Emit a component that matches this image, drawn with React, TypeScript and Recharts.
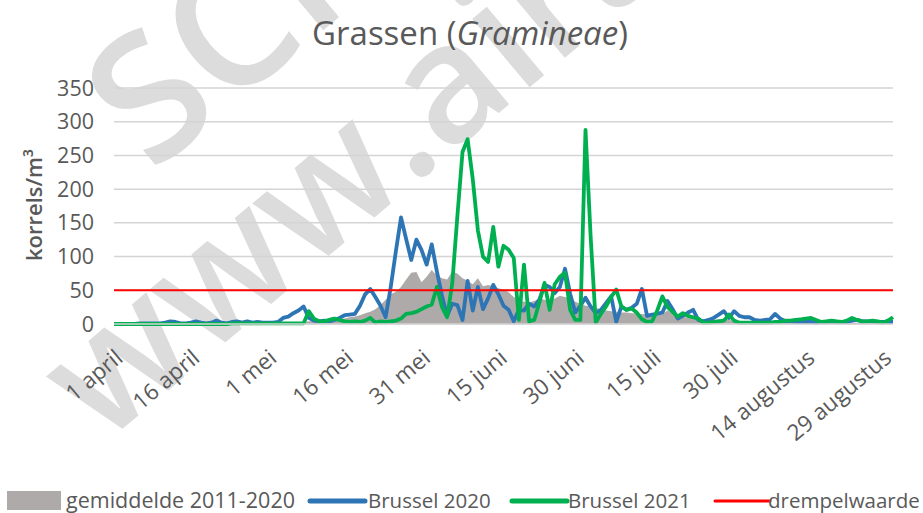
import React from 'react';
import { ComposedChart, Area, Line, XAxis, YAxis, CartesianGrid } from 'recharts';

// Months covered (1 april – 31 augustus)
const MONTHS: [string, number][] = [
  ['april', 30],
  ['mei', 31],
  ['juni', 30],
  ['juli', 31],
  ['augustus', 31],
];

const Y_TICKS = [0, 50, 100, 150, 200, 250, 300, 350];
const THRESHOLD = 50;

// gemiddelde 2011-2020
const AVG = [
  0, 0, 0, 0, 0, 0, 0, 0, 0, 0, 0, 0, 0, 0, 0, 0, 0, 0, 0, 0,
  1, 1, 1, 1, 1, 1, 1, 1, 1, 1, 1, 1, 2, 2, 2, 3, 3, 3, 4, 4,
  4, 5, 6, 6, 7, 8, 10, 11, 13, 16, 18, 22, 28, 36, 44, 48, 55, 66, 76, 77,
  62, 70, 80, 72, 68, 66, 78, 75, 68, 64, 59, 68, 56, 58, 56, 53, 51, 47, 40, 36,
  33, 32, 34, 38, 36, 34, 38, 42, 40, 38, 33, 30, 27, 26, 24, 22, 20, 19, 18, 17,
  17, 16, 16, 15, 14, 12, 12, 15, 20, 16, 12, 10, 10, 9, 8, 7, 7, 6, 7, 8,
  6, 5, 5, 4, 4, 4, 3, 3, 3, 3, 3, 3, 3, 2, 2, 2, 2, 2, 2, 2,
  2, 2, 2, 2, 2, 2, 2, 1, 1, 1, 1, 1, 1,
];

// Brussel 2020
const B2020 = [
  0, 0, 0, 0, 0, 1, 1, 1, 1, 1, 2, 4, 3, 1, 1, 2, 4, 2, 1, 2,
  5, 2, 1, 3, 4, 2, 4, 2, 3, 2, 2, 2, 3, 9, 11, 16, 20, 26, 9, 5,
  4, 5, 4, 6, 9, 13, 14, 15, 27, 44, 52, 40, 27, 10, 55, 108, 158, 126, 95, 125,
  110, 88, 118, 78, 42, 12, 30, 28, 6, 64, 20, 55, 22, 38, 58, 44, 27, 21, 4, 21,
  20, 30, 26, 36, 58, 55, 46, 55, 82, 45, 17, 27, 39, 26, 16, 21, 31, 41, 3, 26,
  21, 24, 30, 52, 12, 14, 15, 17, 34, 22, 8, 12, 17, 21, 6, 4, 6, 9, 14, 19,
  9, 19, 12, 10, 10, 6, 5, 6, 7, 15, 8, 4, 4, 3, 3, 3, 3, 2, 3, 3,
  4, 3, 3, 3, 5, 6, 4, 4, 4, 3, 3, 3, 3,
];

// Brussel 2021
const B2021 = [
  0, 0, 0, 0, 0, 0, 0, 0, 0, 0, 0, 0, 0, 0, 0, 0, 0, 0, 0, 0,
  0, 0, 0, 1, 1, 1, 1, 1, 1, 1, 1, 1, 1, 1, 1, 1, 1, 1, 19, 8,
  4, 4, 6, 8, 6, 4, 3, 4, 3, 5, 9, 2, 4, 3, 4, 5, 8, 15, 16, 18,
  22, 26, 29, 55, 25, 10, 60, 160, 255, 274, 215, 139, 100, 92, 144, 85, 116, 110, 98, 6,
  88, 4, 6, 32, 61, 21, 59, 70, 76, 21, 6, 6, 288, 130, 2, 15, 26, 40, 51, 26,
  21, 23, 17, 7, 3, 4, 20, 41, 25, 18, 11, 16, 12, 10, 8, 2, 2, 3, 4, 5,
  14, 5, 2, 2, 2, 2, 2, 2, 2, 3, 3, 5, 5, 6, 7, 8, 9, 6, 3, 4,
  5, 4, 3, 5, 9, 6, 4, 4, 5, 4, 2, 5, 10,
];

const LABELS: string[] = [];
MONTHS.forEach(([m, n]) => {
  for (let d = 1; d <= n; d++) LABELS.push(`${d} ${m}`);
});

const rows = LABELS.map((label, i) => ({
  label,
  avg: AVG[i] ?? 0,
  b2020: B2020[i] ?? 0,
  b2021: B2021[i] ?? 0,
  drempel: THRESHOLD,
}));

const TXT = '#595959';
const FONT = '"Open Sans", "Noto Sans", sans-serif';

const LEGEND = [
  { kind: 'rect', color: '#aeaaaa', sx: 7, tx: 66, text: 'gemiddelde 2011-2020', fs: 21.5 },
  { kind: 'line', color: '#2e75b6', sx: 310, tx: 368, text: 'Brussel 2020', w: 5, fs: 20.5 },
  { kind: 'line', color: '#00b050', sx: 512, tx: 568, text: 'Brussel 2021', w: 5, fs: 20.5 },
  { kind: 'line', color: '#ff0000', sx: 715, tx: 768, text: 'drempelwaarde', w: 3, fs: 20.5 },
];

export default function App() {
  return (
    <div style={{ position: 'absolute', left: 0, top: 0, width: 923, height: 513, background: '#fff', overflow: 'hidden' }}>
      {/* watermark */}
      <svg width={923} height={513} style={{ position: 'absolute', left: 0, top: 0 }}>
        <g fontFamily={FONT} fontWeight={600} fill="#dcdcdc">
          <text fontSize={175} transform="translate(152,174) rotate(-40)">SCIENSANO</text>
          <text fontSize={165} transform="translate(102,446) rotate(-40)">www.airallergy.be</text>
        </g>
      </svg>
      <div style={{ position: 'absolute', left: 0, top: 0 }}>
        <ComposedChart width={923} height={513} data={rows} margin={{ top: 88, right: 30, left: 0, bottom: 0 }}>
          <CartesianGrid vertical={false} stroke="#d4d4d4" strokeWidth={1.5} />
          <XAxis
            dataKey="label"
            interval={14}
            height={189}
            tickLine={false}
            tickSize={0}
            tickMargin={24}
            axisLine={{ stroke: '#d4d4d4', strokeWidth: 1.5 }}
            tick={{ fontSize: 22.5, fill: TXT, fontFamily: FONT, angle: -40, textAnchor: 'end' }}
          />
          <YAxis
            width={114}
            domain={[0, 350]}
            ticks={Y_TICKS}
            axisLine={false}
            tickLine={false}
            tickSize={0}
            tickMargin={20}
            tick={{ fontSize: 21.5, fill: TXT, fontFamily: FONT }}
          />
          <Area type="linear" dataKey="avg" stroke="none" fill="#aeaaaa" fillOpacity={1} isAnimationActive={false} />
          <Line type="linear" dataKey="b2020" stroke="#2e75b6" strokeWidth={3.8} dot={false} strokeLinejoin="round" isAnimationActive={false} />
          <Line type="linear" dataKey="b2021" stroke="#00b050" strokeWidth={3.8} dot={false} strokeLinejoin="round" isAnimationActive={false} />
          <Line type="linear" dataKey="drempel" stroke="#ff0000" strokeWidth={2} dot={false} isAnimationActive={false} />
        </ComposedChart>
      </div>
      {/* title, axis label, legend */}
      <svg width={923} height={513} style={{ position: 'absolute', left: 0, top: 0, pointerEvents: 'none' }}>
        <text x={470} y={45} textAnchor="middle" fontSize={33} fontFamily={FONT} fill={TXT}>
          Grassen (<tspan fontStyle="italic">Gramineae</tspan>)
        </text>
        <text
          transform="translate(42,205) rotate(-90)"
          textAnchor="middle"
          fontSize={22}
          fontWeight={600}
          fontFamily={FONT}
          fill={TXT}
        >
          korrels/m³
        </text>
        {LEGEND.map((l) => (
          <g key={l.text}>
            {l.kind === 'rect' ? (
              <rect x={l.sx} y={491} width={54} height={19} fill={l.color} />
            ) : (
              <line x1={l.sx} x2={l.sx + 55} y1={501} y2={501} stroke={l.color} strokeWidth={l.w} strokeLinecap="round" />
            )}
            <text x={l.tx} y={508} fontSize={l.fs} fontFamily={FONT} fill={TXT}>
              {l.text}
            </text>
          </g>
        ))}
      </svg>
    </div>
  );
}
